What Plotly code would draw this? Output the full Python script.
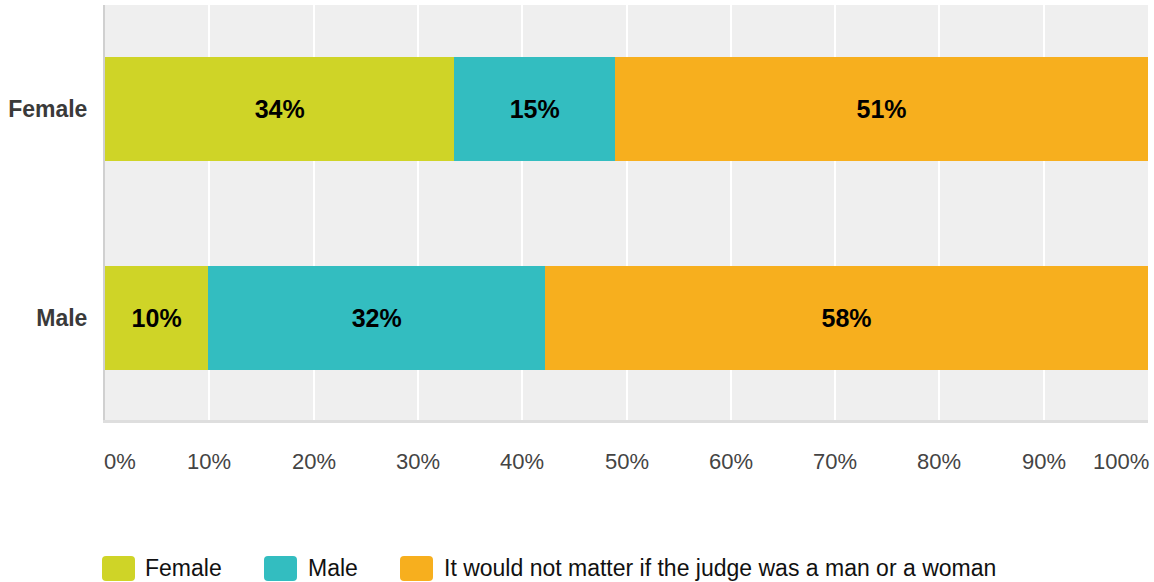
import plotly.graph_objects as go

categories = ["Male", "Female"]
series_names = ["Female", "Male", "It would not matter if the judge was a man or a woman"]
female_pref = [9.9, 33.5]
male_pref = [32.3, 15.4]
no_matter = [57.8, 51.1]
female_labels = ["10%", "34%"]
male_labels = ["32%", "15%"]
no_matter_labels = ["58%", "51%"]
tick_values = [0, 10, 20, 30, 40, 50, 60, 70, 80, 90, 100]
tick_labels = ["0%", "10%", "20%", "30%", "40%", "50%", "60%", "70%", "80%", "90%", "100%"]
colors = ["#CFD427", "#33BDC0", "#F7AF1E"]

W, H = 1154, 582
ML, MR, MT, MB = 105, 6, 5, 162
PW, PH = W - ML - MR, H - MT - MB

def px_x(px):
    return (px - ML) / PW

def px_y(py):
    return (H - MB - py) / PH

FONT = "Liberation Sans, Arial, sans-serif"

fig = go.Figure()
for name, vals, labels, col in zip(series_names,
                                   [female_pref, male_pref, no_matter],
                                   [female_labels, male_labels, no_matter_labels],
                                   colors):
    fig.add_trace(go.Bar(
        y=categories, x=vals, name=name, orientation="h",
        marker=dict(color=col, line=dict(width=0)),
        text=labels, textposition="inside", insidetextanchor="middle",
        textangle=0, constraintext="none",
        textfont=dict(family=FONT, size=25, color="#000000", weight="bold"),
        hoverinfo="skip", showlegend=False,
    ))

annotations = []
for v, t in zip(tick_values, tick_labels):
    if v == tick_values[0]:
        anchor, shift = "left", -3
    elif v == tick_values[-1]:
        anchor, shift = "right", 3
    else:
        anchor, shift = "center", 0
    annotations.append(dict(
        x=v, xref="x", y=px_y(461), yref="paper", text=t, showarrow=False,
        xanchor=anchor, yanchor="middle", xshift=shift,
        font=dict(family=FONT, size=22, color="#444444"),
    ))

# manual legend
swatch_x = [102, 264, 400]
text_x = [145, 308, 444]
shapes = []
r = 4
for sx, tx, name, col in zip(swatch_x, text_x, series_names, colors):
    x0, x1, y0, y1 = sx, sx + 33, 556, 581
    path = (f"M {px_x(x0 + r)},{px_y(y0)} L {px_x(x1 - r)},{px_y(y0)} "
            f"Q {px_x(x1)},{px_y(y0)} {px_x(x1)},{px_y(y0 + r)} "
            f"L {px_x(x1)},{px_y(y1 - r)} Q {px_x(x1)},{px_y(y1)} {px_x(x1 - r)},{px_y(y1)} "
            f"L {px_x(x0 + r)},{px_y(y1)} Q {px_x(x0)},{px_y(y1)} {px_x(x0)},{px_y(y1 - r)} "
            f"L {px_x(x0)},{px_y(y0 + r)} Q {px_x(x0)},{px_y(y0)} {px_x(x0 + r)},{px_y(y0)} Z")
    shapes.append(dict(type="path", xref="paper", yref="paper", path=path,
                       fillcolor=col, line=dict(width=0), layer="above"))
    annotations.append(dict(
        x=px_x(tx), xref="paper", y=px_y(568), yref="paper", text=name,
        showarrow=False, xanchor="left", yanchor="middle", xshift=-2,
        font=dict(family=FONT, size=23, color="#111111"),
    ))

fig.update_layout(
    width=W, height=H,
    margin=dict(l=ML, r=MR, t=MT, b=MB, pad=0),
    paper_bgcolor="#ffffff", plot_bgcolor="#efefef",
    barmode="stack", bargap=0.5,
    showlegend=False,
    annotations=annotations, shapes=shapes,
    xaxis=dict(range=[0, 100], tickvals=tick_values, showticklabels=False,
               showgrid=True, gridcolor="#ffffff", gridwidth=2, zeroline=False,
               showline=True, linecolor="#dedede", linewidth=3, ticks="",
               fixedrange=True),
    yaxis=dict(range=[-0.49, 1.5], showgrid=False, zeroline=False,
               showline=True, linecolor="#d0d0d0", linewidth=2, ticks="",
               ticklabelstandoff=11,
               tickfont=dict(family=FONT, size=23, color="#3a3a3a", weight="bold"),
               fixedrange=True),
)

fig.write_html("out.html")
